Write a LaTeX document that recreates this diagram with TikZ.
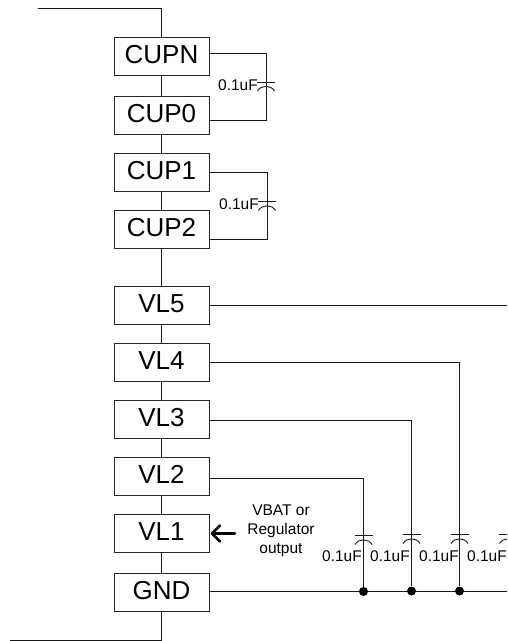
\documentclass[tikz,border=0pt]{standalone}
\usepackage{fontspec}
\setmainfont{Liberation Sans}
\tikzset{
  pinbox/.style={draw=black!85, line width=0.9pt, fill=white, minimum width=95pt, minimum height=38pt, inner sep=0pt, text height=18.6pt, text depth=3pt, font=\fontsize{26}{26}\selectfont},
  wire/.style={draw=black!90, line width=0.9pt},
  junction/.style={circle, fill=black, inner sep=0pt, minimum size=9pt},
  smalltext/.style={inner sep=0pt, font=\fontsize{15.5}{19}\selectfont, align=center},
  capsym/.pic={
    \draw[wire] (-9,0) -- (9,0);
    \draw[wire] (-8.5,9) .. controls (-5,2.8) and (5,2.8) .. (8.5,9);
  }
}
\begin{document}
\begin{tikzpicture}[x=1pt,y=-1pt]
\useasboundingbox (0,0) rectangle (507,641);
\clip (0,0) rectangle (507,641);
% free ends
\coordinate (topend) at (38,8.5);
\coordinate (topcorner) at (161.5,8.5);
\coordinate (botend) at (10,640);
\coordinate (botcorner) at (161.5,640);
\coordinate (vl5end) at (507,305);
\coordinate (gndend) at (507,591);
% boxes
\node[pinbox] (cupn) at (161.5,56) {CUPN};
\node[pinbox] (cup0) at (161.5,115) {CUP0};
\node[pinbox] (cup1) at (161.5,172) {CUP1};
\node[pinbox] (cup2) at (161.5,229) {CUP2};
\node[pinbox] (vl5) at (161.5,305) {VL5};
\node[pinbox] (vl4) at (161.5,362) {VL4};
\node[pinbox] (vl3) at (161.5,419) {VL3};
\node[pinbox] (vl2) at (161.5,476) {VL2};
\node[pinbox] (vl1) at (161.5,533) {VL1};
\node[pinbox] (gnd) at (161.5,592) {GND};
% chain
\draw[wire] (topend) -- (topcorner) -- (cupn.north);
\draw[wire] (cupn) -- (cup0);
\draw[wire] (cup0) -- (cup1);
\draw[wire] (cup1) -- (cup2);
\draw[wire] (cup2) -- (vl5);
\draw[wire] (vl5) -- (vl4);
\draw[wire] (vl4) -- (vl3);
\draw[wire] (vl3) -- (vl2);
\draw[wire] (vl2) -- (vl1);
\draw[wire] (vl1) -- (gnd);
\draw[wire] (gnd.south) -- (botcorner) -- (botend);
% flying capacitors
\coordinate (fc1a) at (266,53);
\coordinate (fc1b) at (266,120);
\coordinate (fc2a) at (267,172);
\coordinate (fc2b) at (267,239);
\draw[wire] (cupn.east |- fc1a) -- (fc1a) -- (fc1b) -- (cup0.east |- fc1b);
\draw[wire] (cup1.east |- fc2a) -- (fc2a) -- (fc2b) -- (cup2.east |- fc2b);
\pic at (266,82) {capsym};
\pic at (267,201.5) {capsym};
\node[smalltext] (lab1) at (238,85) {0.1uF};
\node[smalltext] (lab2) at (239,204) {0.1uF};
% rails
\draw[wire] (vl5.east) -- (vl5end);
\draw[wire] (gnd.east |- gndend) -- (gndend);
\node[junction] (j1) at (363.5,591.5) {};
\node[junction] (j2) at (411.5,591) {};
\node[junction] (j3) at (459.5,591) {};
\coordinate (c4) at (459.5,362);
\coordinate (c3) at (411.5,420);
\coordinate (c2) at (363.5,478);
\draw[wire] (vl4.east |- c4) -- (c4) -- (j3);
\draw[wire] (vl3.east |- c3) -- (c3) -- (j2);
\draw[wire] (vl2.east |- c2) -- (c2) -- (j1);
\pic at (363.5,535.5) {capsym};
\pic at (411.5,534.5) {capsym};
\pic at (459.5,534.5) {capsym};
\pic at (508,534.5) {capsym};
\node[smalltext] (l1) at (342,556) {0.1uF};
\node[smalltext] (l2) at (390,556) {0.1uF};
\node[smalltext] (l3) at (439,556) {0.1uF};
\node[smalltext] (l4) at (487,556) {0.1uF};
% supply label
\node[smalltext] (vbat) at (281,531) {VBAT or\\Regulator\\output};
\coordinate (arrstart) at (235,533.5);
\draw[line width=2.5pt, black, line cap=round, line join=round] (arrstart) -- (212,533.5);
\draw[line width=2.5pt, black, line cap=round, line join=round] (220,525.5) -- (212,533.5) -- (220,541.5);
\end{tikzpicture}
\end{document}
